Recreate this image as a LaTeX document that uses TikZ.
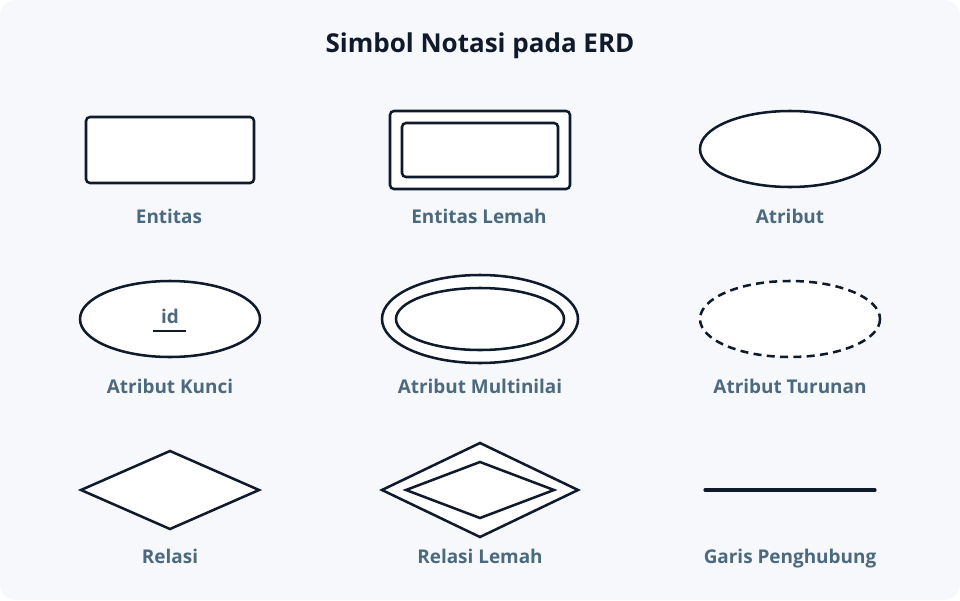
\documentclass[tikz,border=0pt]{standalone}
\usepackage{fontspec}
\setmainfont{Open Sans}
\usetikzlibrary{shapes.geometric}
\definecolor{ink}{HTML}{0F1B2D}
\definecolor{lbl}{HTML}{4B6A7F}
\definecolor{bg}{HTML}{F7F8FC}
\tikzset{
  shp/.style={draw=ink, line width=1.9pt, fill=white},
  lab/.style={text=lbl, font=\fontsize{14.2pt}{16pt}\selectfont\bfseries, anchor=base},
}
\begin{document}
\begin{tikzpicture}[x=0.75pt,y=-0.75pt]
\useasboundingbox (0,0) rectangle (960,600);
\fill[white] (0,0) rectangle (960,600);
\fill[bg, rounded corners=12pt] (0,0) rectangle (960,600);
\node[text=ink, font=\fontsize{19.5pt}{22pt}\selectfont\bfseries, anchor=base] (title) at (480,52) {Simbol Notasi pada ERD};
% Entitas
\draw[shp, rounded corners=3pt] (86,117) rectangle (254,183);
\node[lab] (l1) at (169,223) {Entitas};
% Entitas Lemah
\draw[shp, rounded corners=3pt] (390,111) rectangle (570,189);
\draw[shp, rounded corners=3pt] (402,123) rectangle (558,177);
\node[lab] (l2) at (479,223) {Entitas Lemah};
% Atribut
\draw[shp] (790,149) ellipse [x radius=90, y radius=38];
\node[lab] (l3) at (790,223) {Atribut};
% Atribut Kunci
\draw[shp] (170,319) ellipse [x radius=90, y radius=38];
\node[lab] (id) at (170,323) {id};
\draw[draw=ink, line width=1.5pt] (153,331) -- (186,331);
\node[lab] (l4) at (170,393) {Atribut Kunci};
% Atribut Multinilai
\draw[shp] (480,319) ellipse [x radius=98, y radius=44];
\draw[shp] (480,319) ellipse [x radius=84, y radius=31];
\node[lab] (l5) at (480,393) {Atribut Multinilai};
% Atribut Turunan
\draw[shp, dash pattern=on 6pt off 4pt] (790,319) ellipse [x radius=90, y radius=38];
\node[lab] (l6) at (790,393) {Atribut Turunan};
% Relasi
\draw[shp] (81,490) -- (170,451) -- (259,490) -- (170,529) -- cycle;
\node[lab] (l7) at (170,563) {Relasi};
% Relasi Lemah
\draw[shp] (382,490) -- (480,443) -- (578,490) -- (480,537) -- cycle;
\draw[shp] (406,490) -- (480,462) -- (554,490) -- (480,518) -- cycle;
\node[lab] (l8) at (480,563) {Relasi Lemah};
% Garis
\coordinate (ga) at (705,490);
\coordinate (gb) at (875,490);
\draw[draw=ink, line width=2.4pt, line cap=round] (ga) -- (gb);
\node[lab] (l9) at (790,563) {Garis Penghubung};
\end{tikzpicture}
\end{document}
